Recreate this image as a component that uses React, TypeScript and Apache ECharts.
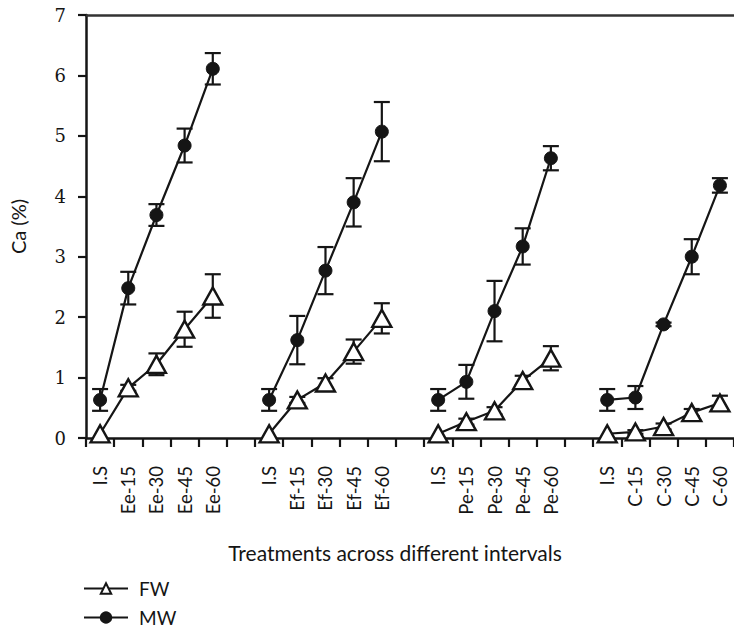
import React, { useEffect, useRef } from "react";
import * as echarts from "echarts";

const categories = [
  "I.S", "Ee-15", "Ee-30", "Ee-45", "Ee-60", "",
  "I.S", "Ef-15", "Ef-30", "Ef-45", "Ef-60", "",
  "I.S", "Pe-15", "Pe-30", "Pe-45", "Pe-60", "",
  "I.S", "C-15", "C-30", "C-45", "C-60",
];

const fwValues = [
  0.07, 0.83, 1.22, 1.8, 2.35, null,
  0.07, 0.63, 0.91, 1.43, 1.98, null,
  0.07, 0.27, 0.45, 0.95, 1.32, null,
  0.07, 0.1, 0.19, 0.42, 0.58,
];
const fwErrors = [
  0, 0.05, 0.18, 0.29, 0.36, null,
  0, 0.05, 0.08, 0.2, 0.25, null,
  0, 0.05, 0.06, 0.08, 0.2, null,
  0, 0.03, 0.05, 0.06, 0.12,
];

const mwValues = [
  0.63, 2.48, 3.69, 4.84, 6.11, null,
  0.63, 1.62, 2.77, 3.9, 5.07, null,
  0.63, 0.93, 2.1, 3.17, 4.63, null,
  0.63, 0.67, 1.88, 3.0, 4.18,
];
const mwErrors = [
  0.18, 0.27, 0.18, 0.28, 0.26, null,
  0.18, 0.4, 0.39, 0.4, 0.49, null,
  0.18, 0.28, 0.5, 0.3, 0.2, null,
  0.18, 0.19, 0.03, 0.29, 0.12,
];

const FONT = "Lato";
const INK = "#151515";

function errData(vals: (number | null)[], errs: (number | null)[]) {
  const out: number[][] = [];
  vals.forEach((v, i) => {
    const e = errs[i];
    if (v != null && e != null && e > 0) out.push([i, v - e, v + e]);
  });
  return out;
}

function errorSeries(vals: (number | null)[], errs: (number | null)[], name: string) {
  return {
    type: "custom",
    name: name + "-err",
    z: 1,
    silent: true,
    data: errData(vals, errs),
    renderItem: (params: any, api: any) => {
      const x = api.value(0);
      const lo = api.coord([x, api.value(1)]);
      const hi = api.coord([x, api.value(2)]);
      const half = 8;
      const style = { stroke: INK, lineWidth: 2.2 };
      return {
        type: "group",
        children: [
          { type: "line", shape: { x1: hi[0], y1: hi[1], x2: lo[0], y2: lo[1] }, style },
          { type: "line", shape: { x1: hi[0] - half, y1: hi[1], x2: hi[0] + half, y2: hi[1] }, style },
          { type: "line", shape: { x1: lo[0] - half, y1: lo[1], x2: lo[0] + half, y2: lo[1] }, style },
        ],
      };
    },
  };
}

export default function App() {
  const ref = useRef<HTMLDivElement>(null);
  useEffect(() => {
    if (!ref.current) return;
    const chart = echarts.init(ref.current, null, { renderer: "svg" });
    chart.setOption({
      animation: false,
      backgroundColor: "#ffffff",
      textStyle: { fontFamily: FONT, color: INK },
      grid: { left: 78, top: 15, right: -2, bottom: 199 },
      legend: {
        orient: "vertical",
        left: 78,
        top: 574,
        height: 63,
        itemWidth: 44,
        itemHeight: 13,
        itemGap: 10,
        data: ["FW", "MW"],
        textStyle: { fontFamily: FONT, fontSize: 19, color: INK, padding: [0, 0, 0, 6] },
      },
      xAxis: [
        {
          type: "category",
          data: categories,
          boundaryGap: true,
          axisLine: { show: true, lineStyle: { color: INK, width: 2.5 } },
          axisTick: { show: true, length: 9, lineStyle: { color: INK, width: 2.2 } },
          axisLabel: {
            interval: 0,
            rotate: 90,
            margin: 28,
            fontFamily: FONT,
            fontSize: 18.5,
            color: INK,
          },
          name: "Treatments across different intervals",
          nameLocation: "middle",
          nameGap: 104,
          nameTextStyle: { fontFamily: FONT, fontSize: 21, color: INK, padding: [0, 30, 0, 0] },
        },
        {
          type: "category",
          position: "top",
          data: categories,
          axisLine: { show: true, lineStyle: { color: "#333", width: 2.5 } },
          axisTick: { show: false },
          axisLabel: { show: false },
        },
      ],
      yAxis: {
        type: "value",
        min: 0,
        max: 7,
        interval: 1,
        splitLine: { show: false },
        axisLine: { show: true, lineStyle: { color: INK, width: 2.5 } },
        axisTick: { show: true, length: 8, lineStyle: { color: INK, width: 2.2 } },
        axisLabel: { margin: 20, fontFamily: "DejaVu Serif", fontSize: 18, color: INK },
        name: "Ca (%)",
        nameLocation: "middle",
        nameGap: 58,
        nameTextStyle: { fontFamily: FONT, fontSize: 20, color: INK },
      },
      series: [
        errorSeries(fwValues, fwErrors, "FW"),
        errorSeries(mwValues, mwErrors, "MW"),
        {
          type: "line",
          name: "FW",
          data: fwValues,
          connectNulls: false,
          z: 3,
          symbol: "triangle",
          symbolSize: [19, 17],
          showAllSymbol: true,
          lineStyle: { color: INK, width: 2.2 },
          itemStyle: { color: "#ffffff", borderColor: INK, borderWidth: 2.4 },
        },
        {
          type: "line",
          name: "MW",
          data: mwValues,
          connectNulls: false,
          z: 3,
          symbol: "circle",
          symbolSize: 13,
          showAllSymbol: true,
          lineStyle: { color: INK, width: 2.2 },
          itemStyle: { color: INK, borderColor: INK, borderWidth: 1 },
        },
      ],
    });
    return () => chart.dispose();
  }, []);
  return (
    <div
      ref={ref}
      style={{ position: "fixed", left: 0, top: 0, width: 734, height: 637 }}
    />
  );
}
